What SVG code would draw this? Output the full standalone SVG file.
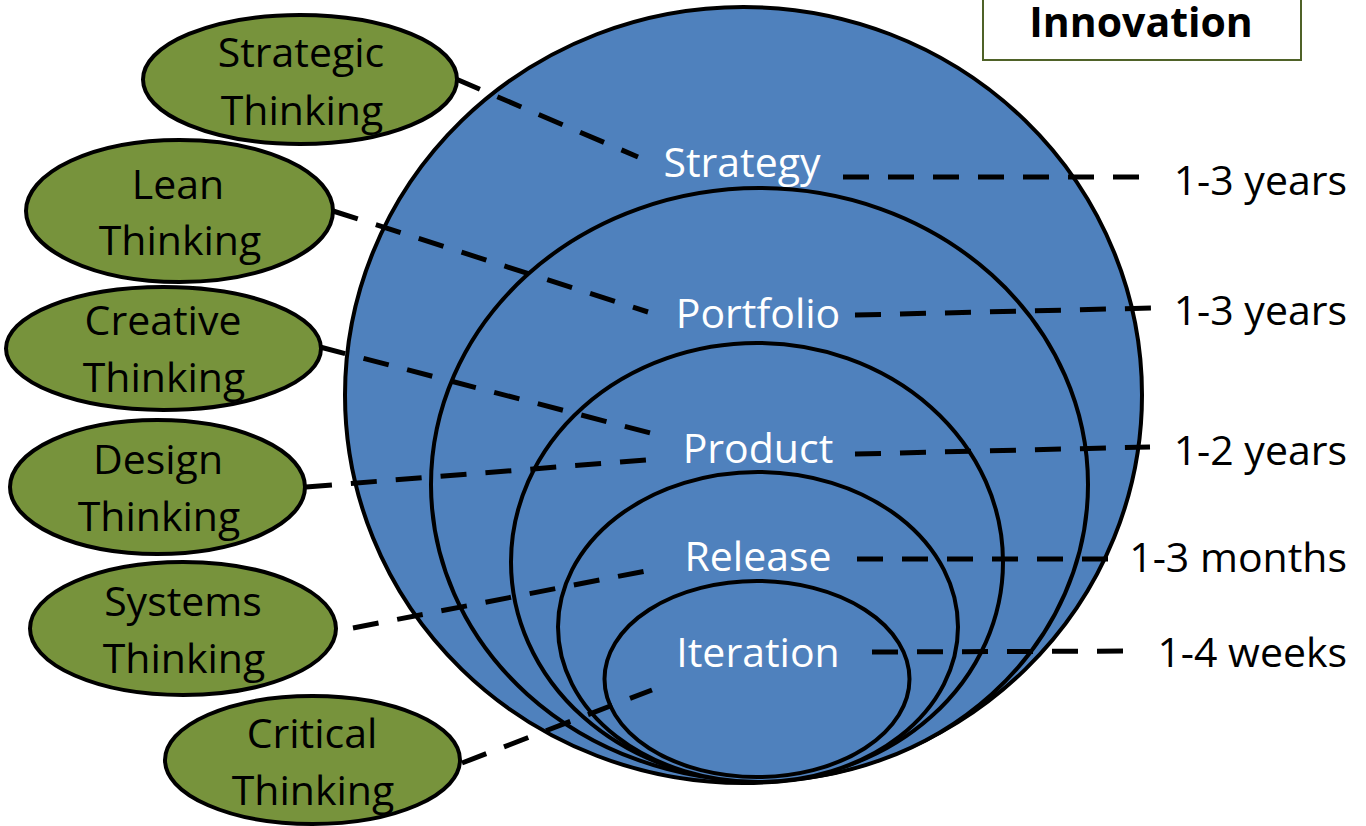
<svg xmlns="http://www.w3.org/2000/svg" width="1366" height="826" viewBox="0 0 1366 826">
<style>
.ring{fill:#4F81BD;stroke:#000;stroke-width:4}
.think{fill:#77933C;stroke:#000;stroke-width:4}
.lbl{font-family:"Open Sans","Liberation Sans",sans-serif;font-size:41px;text-anchor:middle}
.w{fill:#fff}
.k{fill:#000}
.time{font-family:"Open Sans","Liberation Sans",sans-serif;font-size:41px;text-anchor:end;fill:#000}
.dash{stroke:#000;stroke-width:5;stroke-dasharray:26 19;fill:none}
</style>
<rect width="1366" height="826" fill="#fff"/>

<g id="innovation">
<rect x="983" y="-6" width="318" height="66" fill="#fff" stroke="#4F6228" stroke-width="2"/>
<text x="1141" y="37" font-family="'Open Sans','Liberation Sans',sans-serif" font-size="41" font-weight="bold" text-anchor="middle" fill="#000">Innovation</text>
</g>

<g id="strategy">
<ellipse class="ring" cx="743.5" cy="395" rx="398.5" ry="388"/>
</g>
<g id="portfolio">
<ellipse class="ring" cx="759.5" cy="484.5" rx="328.5" ry="296.5"/>
</g>
<g id="product">
<ellipse class="ring" cx="757" cy="562" rx="246" ry="219"/>
</g>
<g id="release">
<ellipse class="ring" cx="758" cy="627" rx="200" ry="155"/>
</g>
<g id="iteration">
<ellipse class="ring" cx="757" cy="679" rx="152.5" ry="98"/>
</g>

<g id="ring-labels">
<text class="lbl w" x="742" y="177">Strategy</text>
<text class="lbl w" x="758" y="328">Portfolio</text>
<text class="lbl w" x="758" y="463">Product</text>
<text class="lbl w" x="758" y="571">Release</text>
<text class="lbl w" x="758" y="667">Iteration</text>
</g>

<g id="connectors">
<line class="dash" x1="456" y1="79" x2="638" y2="157"/>
<line class="dash" x1="333" y1="211" x2="648" y2="312"/>
<line class="dash" x1="320" y1="347" x2="658" y2="435"/>
<line class="dash" x1="306" y1="487" x2="658" y2="459"/>
<line class="dash" x1="353" y1="628" x2="656" y2="569"/>
<line class="dash" x1="462" y1="763" x2="652" y2="690"/>
<line class="dash" x1="843" y1="177" x2="1152" y2="177"/>
<line class="dash" x1="855" y1="315" x2="1153" y2="308"/>
<line class="dash" x1="855" y1="454" x2="1150" y2="447"/>
<line class="dash" x1="857" y1="559" x2="1117" y2="559"/>
<line class="dash" x1="872" y1="652" x2="1133" y2="651"/>
</g>

<g id="time-labels">
<text class="time" x="1347" y="195">1-3 years</text>
<text class="time" x="1347" y="325">1-3 years</text>
<text class="time" x="1347" y="465">1-2 years</text>
<text class="time" x="1347" y="572">1-3 months</text>
<text class="time" x="1347" y="667">1-4 weeks</text>
</g>

<g id="strategic-thinking">
<ellipse class="think" cx="300" cy="79.5" rx="157" ry="64.5"/>
<text class="lbl k" x="301" y="67">Strategic</text>
<text class="lbl k" x="302" y="125">Thinking</text>
</g>
<g id="lean-thinking">
<ellipse class="think" cx="179.5" cy="211" rx="153.5" ry="71"/>
<text class="lbl k" x="178" y="199">Lean</text>
<text class="lbl k" x="180" y="255">Thinking</text>
</g>
<g id="creative-thinking">
<ellipse class="think" cx="163.5" cy="348.5" rx="157.5" ry="61.5"/>
<text class="lbl k" x="163" y="335">Creative</text>
<text class="lbl k" x="164" y="392">Thinking</text>
</g>
<g id="design-thinking">
<ellipse class="think" cx="157.5" cy="487" rx="147.5" ry="67"/>
<text class="lbl k" x="158" y="474">Design</text>
<text class="lbl k" x="159" y="531">Thinking</text>
</g>
<g id="systems-thinking">
<ellipse class="think" cx="183" cy="628.5" rx="153" ry="66.5"/>
<text class="lbl k" x="183" y="616">Systems</text>
<text class="lbl k" x="184" y="673">Thinking</text>
</g>
<g id="critical-thinking">
<ellipse class="think" cx="312.5" cy="760" rx="147.5" ry="64"/>
<text class="lbl k" x="312" y="748">Critical</text>
<text class="lbl k" x="313" y="805">Thinking</text>
</g>
</svg>
